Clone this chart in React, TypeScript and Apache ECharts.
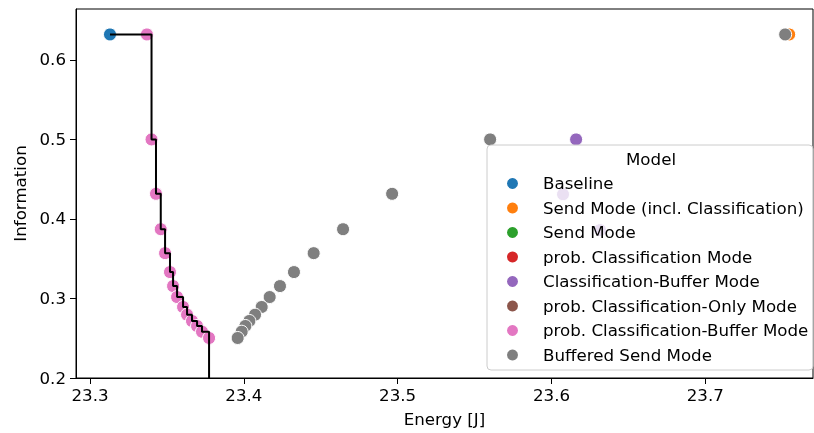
import React, { useEffect, useRef } from "react";
import * as echarts from "echarts";

// Information values (shared y-levels)
const baselineX = [23.313];
const baselineY = [0.632];

const sendInclX = [23.7545];
const sendInclY = [0.632];

const sendModeX: number[] = [];
const sendModeY: number[] = [];

const probClassX: number[] = [];
const probClassY: number[] = [];

const classBufferX = [23.616, 23.6075, 23.6316];
const classBufferY = [0.5, 0.431, 0.386];

const probClassOnlyX: number[] = [];
const probClassOnlyY: number[] = [];

const probClassBufferX = [23.337, 23.3400, 23.3429, 23.3460, 23.3488, 23.3520, 23.3540, 23.3566, 23.3605, 23.3631, 23.3663, 23.3696, 23.3728, 23.3774];
const probClassBufferY = [0.632, 0.5, 0.4316, 0.3871, 0.357, 0.3332, 0.3156, 0.3018, 0.2893, 0.2796, 0.2717, 0.2654, 0.2582, 0.2503];

const bufferedSendX = [23.7519, 23.5601, 23.4964, 23.4645, 23.4454, 23.4326, 23.4235, 23.4168, 23.4116, 23.4073, 23.4036, 23.4010, 23.3986, 23.3960];
const bufferedSendY = [0.632, 0.5, 0.4316, 0.3871, 0.357, 0.3332, 0.3156, 0.3018, 0.2893, 0.2796, 0.2717, 0.2654, 0.2582, 0.2503];

const frontierFloor = 0;

const xTicks = [23.3, 23.4, 23.5, 23.6, 23.7];
const yTicks = [0.2, 0.3, 0.4, 0.5, 0.6];

const seriesNames = [
  "Baseline",
  "Send Mode (incl. Classification)",
  "Send Mode",
  "prob. Classification Mode",
  "Classification-Buffer Mode",
  "prob. Classification-Only Mode",
  "prob. Classification-Buffer Mode",
  "Buffered Send Mode",
];
const colors = ["#1f77b4", "#ff7f0e", "#2ca02c", "#d62728", "#9467bd", "#8c564b", "#e377c2", "#7f7f7f"];

const FONT = "DejaVu Sans";
const FS = 16.67;

export default function App() {
  const ref = useRef<HTMLDivElement>(null);
  useEffect(() => {
    if (!ref.current) return;
    const chart = echarts.init(ref.current, null, { renderer: "svg" });
    const xs = [baselineX, sendInclX, sendModeX, probClassX, classBufferX, probClassOnlyX, probClassBufferX, bufferedSendX];
    const ys = [baselineY, sendInclY, sendModeY, probClassY, classBufferY, probClassOnlyY, probClassBufferY, bufferedSendY];
    const scatterSeries = seriesNames.map((name, i) => ({
      name,
      type: "scatter",
      data: xs[i].map((x, j) => [x, ys[i][j]]),
      symbol: "circle",
      symbolSize: 13,
      itemStyle: { color: colors[i], borderColor: "#ffffff", borderWidth: 1, opacity: 1 },
      z: 2,
    }));
    // Pareto frontier: baseline + prob. Classification-Buffer points, step-post, then drop to floor
    const frontier: number[][] = [[baselineX[0], baselineY[0]]];
    probClassBufferX.forEach((x, j) => frontier.push([x, probClassBufferY[j]]));
    frontier.push([probClassBufferX[probClassBufferX.length - 1], frontierFloor]);

    chart.setOption({
      animation: false,
      color: colors,
      textStyle: { fontFamily: FONT },
      grid: { left: 76, right: 1, top: 9, bottom: 54, show: true, borderColor: "#000", borderWidth: 1, containLabel: false },
      xAxis: {
        type: "value",
        min: 23.2909,
        max: 23.770,
        name: "Energy [J]",
        nameLocation: "middle",
        nameGap: 33,
        nameTextStyle: { fontSize: FS, color: "#000", fontFamily: FONT },
        splitLine: { show: false },
        axisLine: { show: true, onZero: false, lineStyle: { color: "#000", width: 1 } },
        axisTick: { show: true, length: 6, lineStyle: { color: "#000" }, customValues: xTicks },
        axisLabel: { fontSize: FS, color: "#000", margin: 9, fontFamily: FONT, customValues: xTicks, formatter: (v: number) => v.toFixed(1) },
      },
      yAxis: {
        type: "value",
        min: 0.2,
        max: 0.664,
        name: "Information",
        nameLocation: "middle",
        nameGap: 45.5,
        nameRotate: 90,
        nameTextStyle: { fontSize: FS, color: "#000", fontFamily: FONT },
        splitLine: { show: false },
        axisLine: { show: true, onZero: false, lineStyle: { color: "#000", width: 1 } },
        axisTick: { show: true, length: 6, lineStyle: { color: "#000" }, customValues: yTicks },
        axisLabel: { fontSize: FS, color: "#000", margin: 10, fontFamily: FONT, customValues: yTicks, formatter: (v: number) => v.toFixed(1) },
      },
      legend: {
        data: seriesNames,
        orient: "vertical",
        left: 505,
        top: 175,
        padding: 0,
        icon: "circle",
        itemWidth: 13,
        itemHeight: 13,
        itemGap: 7.5,
        z: 30,
        textStyle: { fontSize: FS, lineHeight: 17, color: "#000", fontFamily: FONT, padding: [0, 0, 0, 19] },
        selectedMode: false,
      },
      graphic: [
        {
          type: "rect",
          z: 20,
          shape: { x: 487, y: 145, width: 326, height: 225, r: 4 },
          style: { fill: "rgba(255,255,255,0.8)", stroke: "#cccccc", lineWidth: 1 },
        },
        {
          type: "text",
          z: 21,
          x: 651,
          y: 159,
          style: { text: "Model", font: `${FS}px "${FONT}"`, fill: "#000", textAlign: "center", textVerticalAlign: "middle" },
        },
      ],
      series: [
        ...scatterSeries,
        {
          name: "frontier",
          type: "line",
          step: "end",
          data: frontier,
          showSymbol: false,
          symbol: "none",
          lineStyle: { color: "#000", width: 2 },
          z: 5,
          clip: true,
        },
      ],
    });
    return () => chart.dispose();
  }, []);
  return <div ref={ref} style={{ position: "fixed", left: 0, top: 0, width: 814, height: 433 }} />;
}
